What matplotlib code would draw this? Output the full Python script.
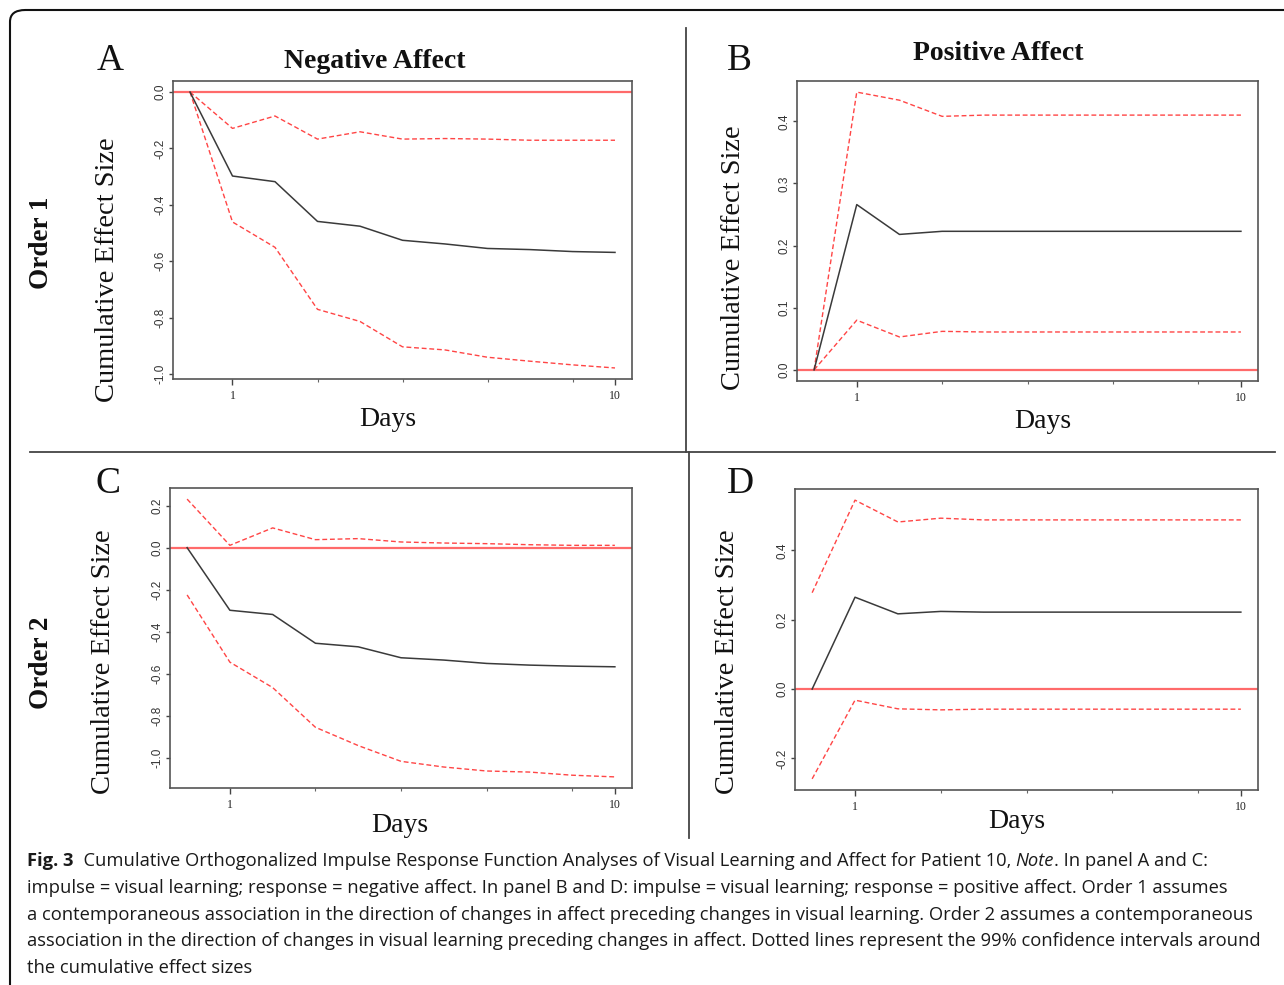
import matplotlib
matplotlib.use("Agg")
import matplotlib.pyplot as plt
from matplotlib.lines import Line2D
from matplotlib.patches import FancyBboxPatch
from matplotlib.ticker import FixedLocator, FixedFormatter

W, H = 1284, 985

# ---------------- data ----------------
days = [0, 1, 2, 3, 4, 5, 6, 7, 8, 9, 10]

a_irf   = [0.0, -0.298, -0.318, -0.459, -0.476, -0.526, -0.539, -0.555, -0.559, -0.566, -0.569]
a_upper = [0.0, -0.129, -0.085, -0.167, -0.141, -0.167, -0.165, -0.167, -0.171, -0.171, -0.171]
a_lower = [0.0, -0.461, -0.551, -0.771, -0.814, -0.904, -0.915, -0.941, -0.955, -0.968, -0.979]

b_irf   = [0.0, 0.266, 0.218, 0.223, 0.223, 0.223, 0.223, 0.223, 0.223, 0.223, 0.223]
b_upper = [0.0, 0.447, 0.434, 0.408, 0.410, 0.410, 0.410, 0.410, 0.410, 0.410, 0.410]
b_lower = [0.0, 0.080, 0.053, 0.062, 0.061, 0.061, 0.061, 0.061, 0.061, 0.061, 0.061]

c_irf   = [0.0, -0.298, -0.318, -0.455, -0.472, -0.524, -0.535, -0.551, -0.559, -0.564, -0.567]
c_upper = [0.231, 0.011, 0.094, 0.038, 0.043, 0.027, 0.022, 0.019, 0.014, 0.011, 0.011]
c_lower = [-0.225, -0.545, -0.666, -0.855, -0.942, -1.017, -1.044, -1.063, -1.068, -1.083, -1.091]

d_irf   = [0.0, 0.265, 0.217, 0.224, 0.222, 0.222, 0.222, 0.222, 0.222, 0.222, 0.222]
d_upper = [0.278, 0.545, 0.482, 0.493, 0.488, 0.488, 0.488, 0.488, 0.488, 0.488, 0.488]
d_lower = [-0.259, -0.032, -0.057, -0.060, -0.058, -0.058, -0.058, -0.058, -0.058, -0.058, -0.058]

a_yticks = [0.0, -0.2, -0.4, -0.6, -0.8, -1.0]
b_yticks = [0.0, 0.1, 0.2, 0.3, 0.4]
c_yticks = [0.2, 0.0, -0.2, -0.4, -0.6, -0.8, -1.0]
d_yticks = [-0.2, 0.0, 0.2, 0.4]

x_major = [1, 10]
x_minor = [3, 5, 7, 9]

panel_letters = ["A", "B", "C", "D"]
col_titles = ["Negative Affect", "Positive Affect"]
row_titles = ["Order 1", "Order 2"]
ylabel = "Cumulative Effect Size"
xlabel = "Days"

caption_lines = [
    [("Fig. 3", "bold"),
     ("  Cumulative Orthogonalized Impulse Response Function Analyses of Visual Learning and Affect for Patient 10, ", "normal"),
     ("Note", "italic"),
     (". In panel A and C:", "normal")],
    [("impulse = visual learning; response = negative affect. In panel B and D: impulse = visual learning; response = positive affect. Order 1 assumes", "normal")],
    [("a contemporaneous association in the direction of changes in affect preceding changes in visual learning. Order 2 assumes a contemporaneous", "normal")],
    [("association in the direction of changes in visual learning preceding changes in affect. Dotted lines represent the 99% confidence intervals around", "normal")],
    [("the cumulative effect sizes", "normal")],
]

# ---------------- figure ----------------
fig = plt.figure(figsize=(W / 100, H / 100), dpi=100)
fig.patch.set_facecolor("white")

SERIF = "Liberation Serif"
SANS = "Liberation Sans"
CAP = "Open Sans"


def fx(x):
    return x / W


def fy(y):
    return 1 - y / H


def rect(l, t, r, b):
    return [l / W, 1 - b / H, (r - l) / W, (b - t) / H]


panels = [
    (rect(173, 81, 632, 379), a_irf, a_upper, a_lower, a_yticks),
    (rect(797, 81, 1258, 381), b_irf, b_upper, b_lower, b_yticks),
    (rect(170, 488, 632, 788), c_irf, c_upper, c_lower, c_yticks),
    (rect(795, 489, 1258, 790), d_irf, d_upper, d_lower, d_yticks),
]

for pos, irf, up, lo, yt in panels:
    ax = fig.add_axes(pos)
    ax.axhline(0, color="#ff6a6a", lw=1.6, zorder=1)
    ax.plot(days, up, color="#ff4545", lw=1.0, ls=(0, (3.5, 2.0)), zorder=2)
    ax.plot(days, lo, color="#ff4545", lw=1.0, ls=(0, (3.5, 2.0)), zorder=2)
    ax.plot(days, irf, color="#3a3a3a", lw=1.1, zorder=3)
    allv = irf + up + lo + [0.0]
    lo_v, hi_v = min(allv), max(allv)
    pad = 0.04 * (hi_v - lo_v)
    ax.set_ylim(lo_v - pad, hi_v + pad)
    ax.set_xlim(days[0] - 0.04 * (days[-1] - days[0]), days[-1] + 0.04 * (days[-1] - days[0]))
    ax.xaxis.set_major_locator(FixedLocator(x_major))
    ax.xaxis.set_major_formatter(FixedFormatter([str(v) for v in x_major]))
    ax.xaxis.set_minor_locator(FixedLocator(x_minor))
    ax.yaxis.set_major_locator(FixedLocator(yt))
    ax.yaxis.set_major_formatter(FixedFormatter([f"{v:.1f}".replace("\u2212", "-") for v in yt]))
    ax.tick_params(axis="x", which="major", length=4, width=1.0, color="#444444",
                   labelsize=8.5, pad=4, labelcolor="#222222")
    ax.tick_params(axis="x", which="minor", length=2, width=0.8, color="#666666")
    ax.tick_params(axis="y", which="major", length=3, width=1.0, color="#444444",
                   labelsize=8.5, pad=1.5, labelcolor="#333333", labelrotation=90)
    for lab in ax.get_xticklabels():
        lab.set_fontfamily(SERIF)
    for lab in ax.get_yticklabels():
        lab.set_fontfamily(SANS)
        lab.set_va("center")
    for s in ax.spines.values():
        s.set_color("#555555")
        s.set_linewidth(1.2)

# panel letters
for (x, y), t in zip([(110, 61), (739, 61), (108, 484), (740, 484)], panel_letters):
    fig.text(fx(x), fy(y), t, family=SERIF, fontsize=27, ha="center", va="center", color="#111111")

# column titles
fig.text(fx(375), fy(61), col_titles[0], family=SERIF, fontsize=20, fontweight="bold",
         ha="center", va="center", color="#111111")
fig.text(fx(998), fy(54), col_titles[1], family=SERIF, fontsize=20, fontweight="bold",
         ha="center", va="center", color="#111111")

# row titles
fig.text(fx(42), fy(243), row_titles[0], family=SERIF, fontsize=19.5, fontweight="bold",
         ha="center", va="center", rotation=90, color="#111111")
fig.text(fx(42), fy(663), row_titles[1], family=SERIF, fontsize=19.5, fontweight="bold",
         ha="center", va="center", rotation=90, color="#111111")

# y labels
for (x, y) in [(108, 270), (733, 258), (104, 662), (727, 662)]:
    fig.text(fx(x), fy(y), ylabel, family=SERIF, fontsize=20.5, ha="center", va="center",
             rotation=90, color="#111111")

# x labels
for (x, y) in [(388, 419), (1043, 421), (400, 826), (1017, 821)]:
    fig.text(fx(x), fy(y), xlabel, family=SERIF, fontsize=20, ha="center", va="center",
             color="#111111")

# dividers
fig.add_artist(Line2D([fx(686), fx(686)], [fy(28), fy(452)], color="#444444", lw=1.3))
fig.add_artist(Line2D([fx(689), fx(689)], [fy(452), fy(838)], color="#444444", lw=1.3))
fig.add_artist(Line2D([fx(30), fx(1275)], [fy(452), fy(452)], color="#444444", lw=1.3))

# outer rounded border (extends past right/bottom edges)
border = FancyBboxPatch((fx(10), fy(1010)), fx(1300), (1010 - 10) / H,
                        boxstyle="round,pad=0,rounding_size=0.012",
                        transform=fig.transFigure, fill=False, ec="#111111", lw=1.5,
                        clip_on=False)
fig.add_artist(border)

# caption
cap_size = 12.0
baselines = [866, 893, 920, 946, 973]
targets = [1232, 1245, 1256]  # right ends of lines 2-4 in the reference
fig.canvas.draw()
renderer = fig.canvas.get_renderer()

ratios = []
for (line, tgt) in zip(caption_lines[1:4], targets):
    probe = fig.text(0, 0, line[0][0], family=CAP, fontsize=cap_size)
    wpx = probe.get_window_extent(renderer).width
    probe.remove()
    ratios.append((tgt - 27) / wpx)
cap_size = cap_size * sum(ratios) / len(ratios)

for line, yb in zip(caption_lines, baselines):
    x = 27
    for txt, style in line:
        kw = dict(family=CAP, fontsize=cap_size, color="#1a1a1a", ha="left", va="baseline")
        if style == "bold":
            kw["fontweight"] = "bold"
        elif style == "italic":
            kw["fontstyle"] = "italic"
        t = fig.text(fx(x), fy(yb), txt, **kw)
        ext = t.get_window_extent(renderer)
        x = x + ext.width

fig.savefig("out.png", dpi=100)
